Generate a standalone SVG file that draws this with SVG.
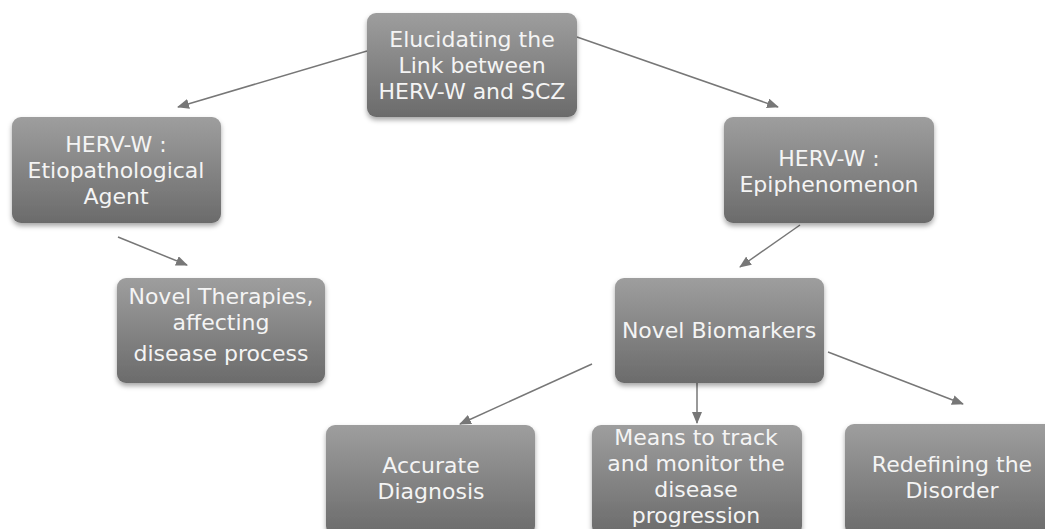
<svg xmlns="http://www.w3.org/2000/svg" width="1045" height="529" viewBox="0 0 1045 529">
  <style>
    .box { fill: url(#g); filter: url(#sh); }
    .t { font-family: "DejaVu Sans", "Liberation Sans", sans-serif; font-size: 22px; fill: #f4f4f4; text-anchor: middle; }
    .c line { stroke: #777; stroke-width: 1.5; marker-end: url(#ah); }
  </style>
  <defs>
    <linearGradient id="g" x1="0" y1="0" x2="0" y2="1">
      <stop offset="0" stop-color="#9e9e9e"/>
      <stop offset="1" stop-color="#6b6b6b"/>
    </linearGradient>
    <filter id="sh" x="-10%" y="-10%" width="120%" height="130%">
      <feDropShadow dx="0" dy="3" stdDeviation="2.5" flood-color="#000" flood-opacity="0.35"/>
    </filter>
    <marker id="ah" markerWidth="12" markerHeight="10" refX="11" refY="5" orient="auto" markerUnits="userSpaceOnUse">
      <path d="M0,0 L12,5 L0,10 Z" fill="#777"/>
    </marker>
  </defs>
  <rect width="1045" height="529" fill="#ffffff"/>

  <g class="c" id="connectors">
    <line x1="367" y1="51" x2="178" y2="107"/>
    <line x1="577" y1="37" x2="778" y2="107"/>
    <line x1="118" y1="237" x2="187" y2="265"/>
    <line x1="800" y1="225" x2="740" y2="267"/>
    <line x1="592" y1="364" x2="460" y2="424"/>
    <line x1="697" y1="383" x2="697" y2="423"/>
    <line x1="828" y1="352" x2="963" y2="404"/>
  </g>

  <g id="n-top">
    <rect class="box" x="367" y="13" width="210" height="104" rx="9"/>
    <text class="t" x="472" y="47">Elucidating the</text>
    <text class="t" x="472" y="73">Link between</text>
    <text class="t" x="472" y="99">HERV-W and SCZ</text>
  </g>

  <g id="n-agent">
    <rect class="box" x="12" y="117" width="209" height="106" rx="9"/>
    <text class="t" x="116" y="152">HERV-W :</text>
    <text class="t" x="116" y="178">Etiopathological</text>
    <text class="t" x="116" y="204">Agent</text>
  </g>

  <g id="n-epi">
    <rect class="box" x="724" y="117" width="210" height="106" rx="9"/>
    <text class="t" x="829" y="166">HERV-W :</text>
    <text class="t" x="829" y="192">Epiphenomenon</text>
  </g>

  <g id="n-therapies">
    <rect class="box" x="117" y="278" width="208" height="105" rx="9"/>
    <text class="t" x="221" y="304">Novel Therapies,</text>
    <text class="t" x="221" y="330">affecting</text>
    <text class="t" x="221" y="361">disease process</text>
  </g>

  <g id="n-biomarkers">
    <rect class="box" x="615" y="278" width="209" height="105" rx="9"/>
    <text class="t" x="719" y="338">Novel Biomarkers</text>
  </g>

  <g id="n-diagnosis">
    <rect class="box" x="326" y="425" width="209" height="110" rx="9"/>
    <text class="t" x="431" y="473">Accurate</text>
    <text class="t" x="431" y="499">Diagnosis</text>
  </g>

  <g id="n-means">
    <rect class="box" x="592" y="425" width="210" height="110" rx="9"/>
    <text class="t" x="696" y="445">Means to track</text>
    <text class="t" x="696" y="471">and monitor the</text>
    <text class="t" x="696" y="497">disease</text>
    <text class="t" x="696" y="523">progression</text>
  </g>

  <g id="n-redefine">
    <rect class="box" x="845" y="424" width="210" height="111" rx="9"/>
    <text class="t" x="952" y="472">Redefining the</text>
    <text class="t" x="952" y="498">Disorder</text>
  </g>
</svg>
